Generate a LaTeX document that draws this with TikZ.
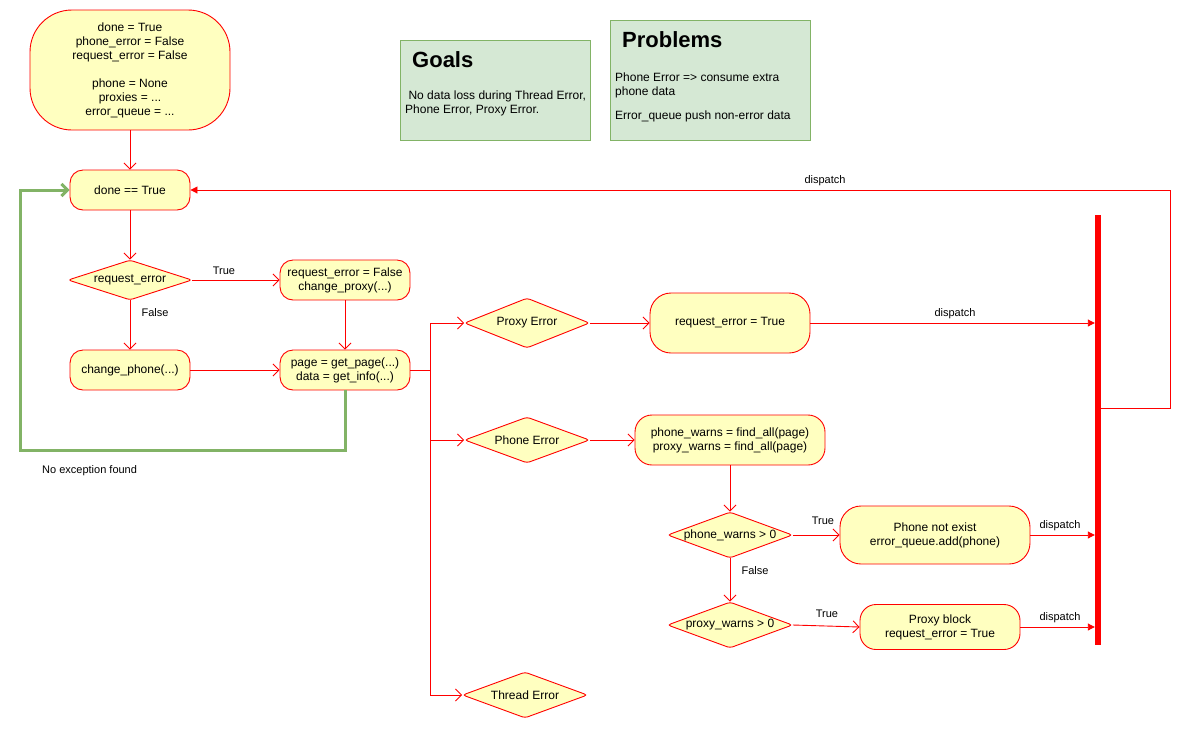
\documentclass[tikz,border=0pt]{standalone}
\usepackage{fontspec}
\setmainfont{Liberation Sans}
\usetikzlibrary{shapes.geometric,arrows.meta}
\definecolor{yfill}{HTML}{FFFFC0}
\definecolor{gfill}{HTML}{D5E8D4}
\definecolor{gline}{HTML}{82B366}
\newcommand{\fsn}{\fontsize{12}{14}\selectfont}
\newcommand{\fsl}{\fontsize{11}{13}\selectfont}
\tikzset{
  act/.style={draw=red, line width=0.9pt, fill=yfill, align=center, font=\fsn, inner sep=0pt},
  dec/.style={diamond, aspect=2.7, draw=red, line width=0.9pt, fill=yfill, align=center, font=\fsn, inner sep=0pt, rounded corners=3pt},
  arr/.style={draw=red, line width=0.9pt, -{Straight Barb[length=6pt,width=12pt]}},
  disp/.style={draw=red, line width=0.9pt, -{Triangle[length=7pt,width=7pt]}},
  lbl/.style={font=\fsl, inner sep=0pt},
  note/.style={draw=gline, line width=0.9pt, fill=gfill},
}
\begin{document}
\begin{tikzpicture}[x=1pt,y=-1pt]
\useasboundingbox (0,0) rectangle (1194,732);

% notes
\node[note, minimum width=190pt, minimum height=100pt] (goals) at (495,90) {};
\node[anchor=west, font=\fontsize{22}{24}\selectfont\bfseries, inner sep=0pt] (goalst) at (412,60) {Goals};
\node[anchor=west, align=left, font=\fsn, inner sep=0pt] (goalsx) at (405,103) {\ No data loss during Thread Error,\\Phone Error, Proxy Error.};
\node[note, minimum width=200pt, minimum height=120pt] (probs) at (710,80) {};
\node[anchor=west, font=\fontsize{22}{24}\selectfont\bfseries, inner sep=0pt] (probst) at (622,40) {Problems};
\node[anchor=west, align=left, font=\fsn, inner sep=0pt] (probsx) at (615,97) {Phone Error => consume extra\\phone data\\[10pt]Error\_queue push non-error data};

% nodes
\node[act, rounded corners=42pt, minimum width=200pt, minimum height=120pt] (start) at (130,70)
  {done = True\\phone\_error = False\\request\_error = False\\[14pt]phone = None\\proxies = ...\\error\_queue = ...};
\node[act, rounded corners=13pt, minimum width=120pt, minimum height=40pt] (done) at (130,190) {done == True};
\node[dec, minimum width=124pt, minimum height=40pt] (req) at (130,280) {request\_error};
\node[act, rounded corners=13pt, minimum width=130pt, minimum height=40pt] (reqf) at (345,280) {request\_error = False\\change\_proxy(...)};
\node[act, rounded corners=13pt, minimum width=120pt, minimum height=40pt] (chph) at (130,370) {change\_phone(...)};
\node[act, rounded corners=13pt, minimum width=130pt, minimum height=40pt] (page) at (345,370) {page = get\_page(...)\\data = get\_info(...)};
\coordinate (br) at (430,370);

\node[dec, minimum width=125pt, minimum height=50pt] (pe) at (527,323) {Proxy Error};
\node[act, rounded corners=21pt, minimum width=160pt, minimum height=60pt] (rt) at (730,323) {request\_error = True};
\node[dec, minimum width=125pt, minimum height=46pt] (phe) at (527,440) {Phone Error};
\node[act, rounded corners=17pt, minimum width=190pt, minimum height=50pt] (pw) at (730,440) {phone\_warns = find\_all(page)\\proxy\_warns = find\_all(page)};
\node[dec, minimum width=125pt, minimum height=46pt] (pwg) at (730,535) {phone\_warns > 0};
\node[act, rounded corners=21pt, minimum width=190pt, minimum height=58pt] (pne) at (935,535) {Phone not exist\\error\_queue.add(phone)};
\node[dec, minimum width=125pt, minimum height=46pt] (prwg) at (730,625) {proxy\_warns > 0};
\node[act, rounded corners=16pt, minimum width=160pt, minimum height=45pt] (pb) at (940,627) {Proxy block\\request\_error = True};
\node[dec, minimum width=125pt, minimum height=46pt] (te) at (525,695) {Thread Error};

\node[fill=red, inner sep=0pt, minimum width=6pt, minimum height=430pt] (bar) at (1098,430) {};

% connectors
\draw[arr] (start.south) -- (done.north);
\draw[arr] (done.south) -- (req.north);
\draw[arr] (req.east) -- (reqf.west);
\node[lbl] (lt1) at (224,271) {True};
\draw[arr] (req.south) -- (chph.north);
\node[lbl] (lf1) at (155,313) {False};
\draw[arr] (reqf.south) -- (page.north);
\draw[arr] (chph.east) -- (page.west);
\draw[red, line width=0.9pt] (page.east) -- (br);
\draw[arr] (br) |- (pe.west);
\draw[arr] (br) |- (phe.west);
\draw[arr] (br) |- (te.west);
\draw[arr] (pe.east) -- (rt.west);
\draw[disp] (rt.east) -- (rt.east -| bar.west);
\node[lbl] (ld1) at (955,314) {dispatch};
\draw[arr] (phe.east) -- (pw.west);
\draw[arr] (pw.south) -- (pwg.north);
\draw[arr] (pwg.east) -- (pne.west);
\node[lbl] (lt2) at (823,521) {True};
\draw[arr] (pwg.south) -- (prwg.north);
\node[lbl] (lf2) at (755,571) {False};
\draw[arr] (prwg.east) -- (pb.west);
\node[lbl] (lt3) at (827,614) {True};
\draw[disp] (pne.east) -- (pne.east -| bar.west);
\node[lbl] (ld2) at (1060,526) {dispatch};
\draw[disp] (pb.east) -- (pb.east -| bar.west);
\node[lbl] (ld3) at (1060,618) {dispatch};
\coordinate (bo) at (1170,408);
\draw[disp] (bar.east |- bo) -- (bo) |- (done.east);
\node[lbl] (ld4) at (825,181) {dispatch};

\draw[draw=gline, line width=3pt, -{Straight Barb[length=6pt,width=12pt]}] (page.south) -- (345,450) -- (20,450) -- (20,190) -- (done.west);
\node[lbl, anchor=west] (noex) at (42,471) {No exception found};
\end{tikzpicture}
\end{document}
